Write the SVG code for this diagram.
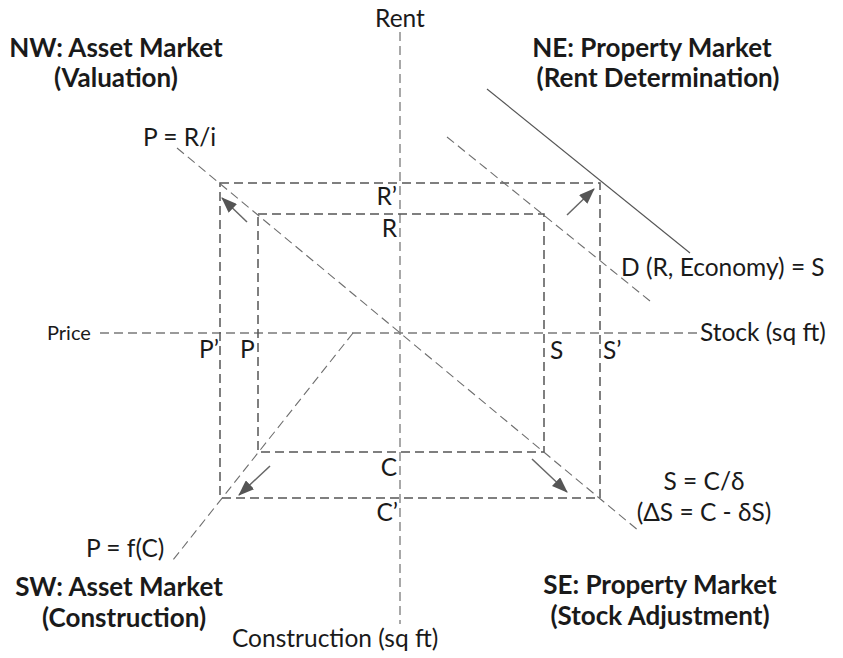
<svg xmlns="http://www.w3.org/2000/svg" width="843" height="658" viewBox="0 0 843 658">
  <defs>
    <style>
      .lbl { font-family: Lato, "Open Sans", "Liberation Sans", sans-serif; font-size: 24.5px; fill: #1a1a1a; }
      .sm { font-size: 20px; }
      .hd { font-family: Lato, "Open Sans", "Liberation Sans", sans-serif; font-size: 26px; font-weight: bold; fill: #1a1a1a; }
      .axis { stroke: #7a7a7a; stroke-width: 1.3; stroke-dasharray: 9 5; fill: none; }
      .rect { stroke: #555; stroke-width: 1.5; stroke-dasharray: 9 5; fill: none; }
      .diag { stroke: #6e6e6e; stroke-width: 1.1; stroke-dasharray: 9 5; fill: none; }
      .solid { stroke: #555; stroke-width: 1.1; fill: none; }
      .arr { stroke: #666; stroke-width: 1.5; fill: none; marker-end: url(#head); }
    </style>
    <marker id="head" viewBox="0 0 16 12" refX="15" refY="6" markerWidth="16" markerHeight="12" markerUnits="userSpaceOnUse" orient="auto">
      <path d="M0,0 L16,6 L0,12 Z" fill="#555"/>
    </marker>
  </defs>
  <rect width="843" height="658" fill="#fff"/>

  <!-- axes -->
  <g id="axes">
    <line class="axis" x1="400" y1="32" x2="400" y2="624"/>
    <line class="axis" x1="100" y1="333" x2="697" y2="333"/>
  </g>

  <!-- equilibrium rectangles -->
  <g id="rectangles">
    <rect class="rect" x="258" y="214" width="286" height="238"/>
    <rect class="rect" x="220" y="183" width="380" height="315"/>
  </g>

  <!-- quadrant curves and shift arrows -->
  <g id="connectors">
    <line class="diag" x1="177" y1="148" x2="639" y2="531"/>
    <line class="diag" x1="353" y1="333" x2="173" y2="560"/>
    <line class="diag" x1="447" y1="137" x2="650" y2="301"/>
    <line class="solid" x1="487" y1="89" x2="690" y2="253"/>
    <line class="arr" x1="247" y1="222" x2="222" y2="198"/>
    <line class="arr" x1="567" y1="215" x2="594" y2="189"/>
    <line class="arr" x1="270" y1="466" x2="239" y2="495"/>
    <line class="arr" x1="532" y1="459" x2="567" y2="492"/>
  </g>

  <!-- quadrant titles -->
  <g id="nw-title">
    <text class="hd" x="116" y="57" text-anchor="middle">NW: Asset Market</text>
    <text class="hd" x="116" y="87" text-anchor="middle">(Valuation)</text>
  </g>
  <g id="ne-title">
    <text class="hd" x="652" y="57" text-anchor="middle">NE: Property Market</text>
    <text class="hd" x="658" y="87" text-anchor="middle">(Rent Determination)</text>
  </g>
  <g id="sw-title">
    <text class="hd" x="119" y="596" text-anchor="middle">SW: Asset Market</text>
    <text class="hd" x="124" y="627" text-anchor="middle">(Construction)</text>
  </g>
  <g id="se-title">
    <text class="hd" x="660" y="594" text-anchor="middle">SE: Property Market</text>
    <text class="hd" x="660" y="625" text-anchor="middle">(Stock Adjustment)</text>
  </g>

  <!-- axis and curve labels -->
  <g id="labels">
    <text class="lbl" x="400" y="27" text-anchor="middle">Rent</text>
    <text class="lbl" x="232" y="647">Construction (sq ft)</text>
    <text class="lbl sm" x="47" y="340">Price</text>
    <text class="lbl" x="700" y="341">Stock (sq ft)</text>
    <text class="lbl" x="143" y="146">P = R/i</text>
    <text class="lbl" x="621" y="276">D (R, Economy) = S</text>
    <text class="lbl" x="86" y="557">P = f(C)</text>
    <text class="lbl" x="704" y="490" text-anchor="middle">S = C/δ</text>
    <text class="lbl" x="704" y="521" text-anchor="middle">(ΔS = C - δS)</text>
    <text class="lbl" x="397" y="205" text-anchor="end">R’</text>
    <text class="lbl" x="397" y="237" text-anchor="end">R</text>
    <text class="lbl" x="397" y="476" text-anchor="end">C</text>
    <text class="lbl" x="398" y="521" text-anchor="end">C’</text>
    <text class="lbl" x="199" y="358">P’</text>
    <text class="lbl" x="240" y="358">P</text>
    <text class="lbl" x="550" y="359">S</text>
    <text class="lbl" x="603" y="359">S’</text>
  </g>
</svg>
